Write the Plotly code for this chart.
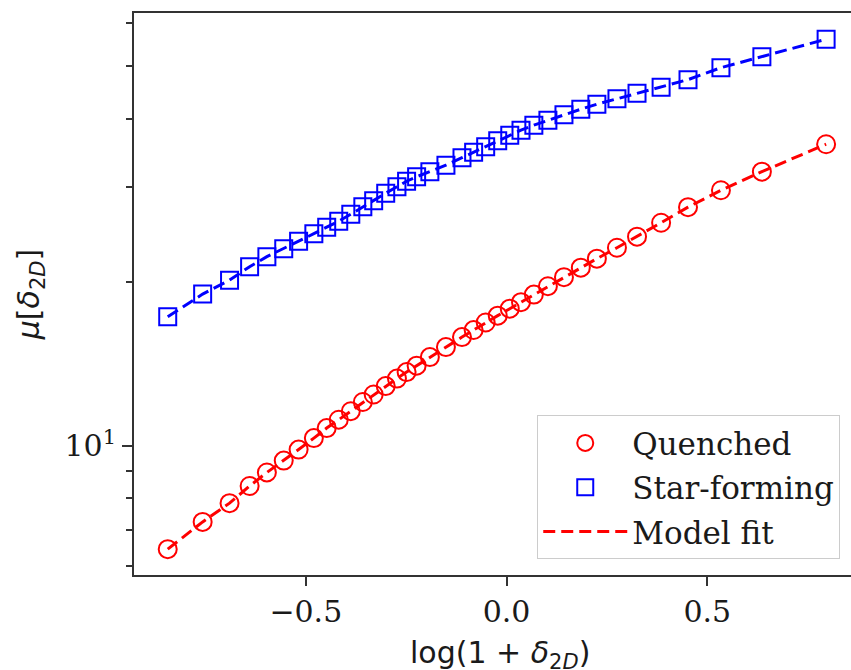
import plotly.graph_objects as go

# Bin centres in log(1 + delta_2D)
log_density = [
    -0.844, -0.757, -0.690, -0.640, -0.597, -0.555, -0.518, -0.480, -0.448, -0.418,
    -0.388, -0.358, -0.331, -0.301, -0.273, -0.249, -0.224, -0.191, -0.151, -0.111,
    -0.082, -0.052, -0.022, 0.008, 0.036, 0.068, 0.103, 0.143, 0.185, 0.225,
    0.275, 0.325, 0.385, 0.452, 0.534, 0.636, 0.796,
]

# Mean values per bin, quenched population
quenched = [
    6.45, 7.24, 7.84, 8.43, 8.93, 9.39, 9.84, 10.33, 10.78, 11.17,
    11.58, 12.04, 12.43, 12.88, 13.30, 13.67, 14.05, 14.57, 15.20, 15.86,
    16.34, 16.87, 17.37, 17.89, 18.39, 18.99, 19.68, 20.45, 21.29, 22.12,
    23.17, 24.28, 25.76, 27.52, 29.57, 31.99, 35.94,
]

# Mean values per bin, star-forming population
star_forming = [
    17.29, 19.03, 20.19, 21.38, 22.31, 23.08, 23.82, 24.59, 25.28, 25.93,
    26.71, 27.57, 28.28, 29.20, 30.01, 30.72, 31.31, 31.99, 32.88, 33.95,
    34.75, 35.56, 36.49, 37.35, 38.15, 38.97, 39.79, 40.73, 41.70, 42.59,
    43.61, 44.63, 45.79, 47.27, 49.73, 52.11, 56.11,
]

# Model curves evaluated at the same bin centres
fit_quenched = list(quenched)
fit_star_forming = list(star_forming)

x_ticks = [-0.5, 0.0, 0.5]
x_tick_labels = ["\u22120.5", "0.0", "0.5"]
y_ticks = [10]
y_tick_labels = ["10<sup>1</sup>"]
y_minor_ticks = [6, 7, 8, 9, 20, 30, 40, 50, 60]

RED = "#ff0000"
BLUE = "#0000ff"
AXIS = "#333333"
TEXT = "#1a1a1a"
SERIF = "DejaVu Serif"
SANS = "DejaVu Sans"

fig = go.Figure()

fig.add_trace(go.Scatter(
    x=log_density, y=fit_quenched, mode="lines", name="Model fit",
    line=dict(color=RED, width=3, dash="12px,6px"),
    legendgroup="fit", legendrank=3,
))
fig.add_trace(go.Scatter(
    x=log_density, y=fit_star_forming, mode="lines", showlegend=False,
    line=dict(color=BLUE, width=3, dash="12px,6px"),
))
fig.add_trace(go.Scatter(
    x=log_density, y=quenched, mode="markers", name="Quenched",
    marker=dict(symbol="circle-open", size=18, color=RED, line=dict(width=2, color=RED)),
    legendgroup="q", legendrank=1,
))
fig.add_trace(go.Scatter(
    x=log_density, y=star_forming, mode="markers", name="Star-forming",
    marker=dict(symbol="square-open", size=17, color=BLUE, line=dict(width=2, color=BLUE)),
    legendgroup="sf", legendrank=2,
))

# x-axis label placed as an annotation so it can sit low in the bottom margin
fig.add_annotation(
    text="log(1 + <i>\u03b4</i><sub>2<i>D</i></sub>)",
    xref="paper", yref="paper", x=0.51, y=-0.142,
    xanchor="center", yanchor="middle", showarrow=False,
    font=dict(family=SANS, size=30, color=TEXT),
)

fig.update_layout(
    width=851, height=670,
    margin=dict(l=134, r=0, t=13, b=95),
    paper_bgcolor="white", plot_bgcolor="white",
    font=dict(family=SERIF, size=30, color="black"),
    showlegend=True,
    legend=dict(
        x=0.985, y=0.028, xanchor="right", yanchor="bottom",
        bgcolor="white", bordercolor="#cccccc", borderwidth=1,
        font=dict(family=SERIF, size=31, color=TEXT),
        traceorder="grouped", tracegroupgap=1, itemwidth=84,
    ),
    xaxis=dict(
        range=[-0.928, 0.858],
        tickmode="array", tickvals=x_ticks, ticktext=x_tick_labels,
        ticks="outside", ticklen=9, tickwidth=2, tickcolor=AXIS,
        showline=True, linecolor=AXIS, linewidth=2, mirror=True,
        showgrid=False, zeroline=False,
        tickfont=dict(family=SERIF, size=30, color=TEXT),
    ),
    yaxis=dict(
        type="log", range=[0.7619, 1.7974],
        tickmode="array", tickvals=y_ticks, ticktext=y_tick_labels,
        ticks="outside", ticklen=10, tickwidth=2, tickcolor=AXIS,
        minor=dict(tickmode="array", tickvals=y_minor_ticks, ticks="outside",
                   ticklen=6, tickwidth=1.5, tickcolor=AXIS, showgrid=False),
        showline=True, linecolor=AXIS, linewidth=2, mirror=False,
        showgrid=False, zeroline=False,
        tickfont=dict(family=SERIF, size=30, color=TEXT),
        title=dict(
            text="<i>\u03bc</i>[<i>\u03b4</i><sub>2<i>D</i></sub>]",
            font=dict(family=SANS, size=30, color=TEXT),
            standoff=16,
        ),
    ),
)

fig.write_html("out.html")
